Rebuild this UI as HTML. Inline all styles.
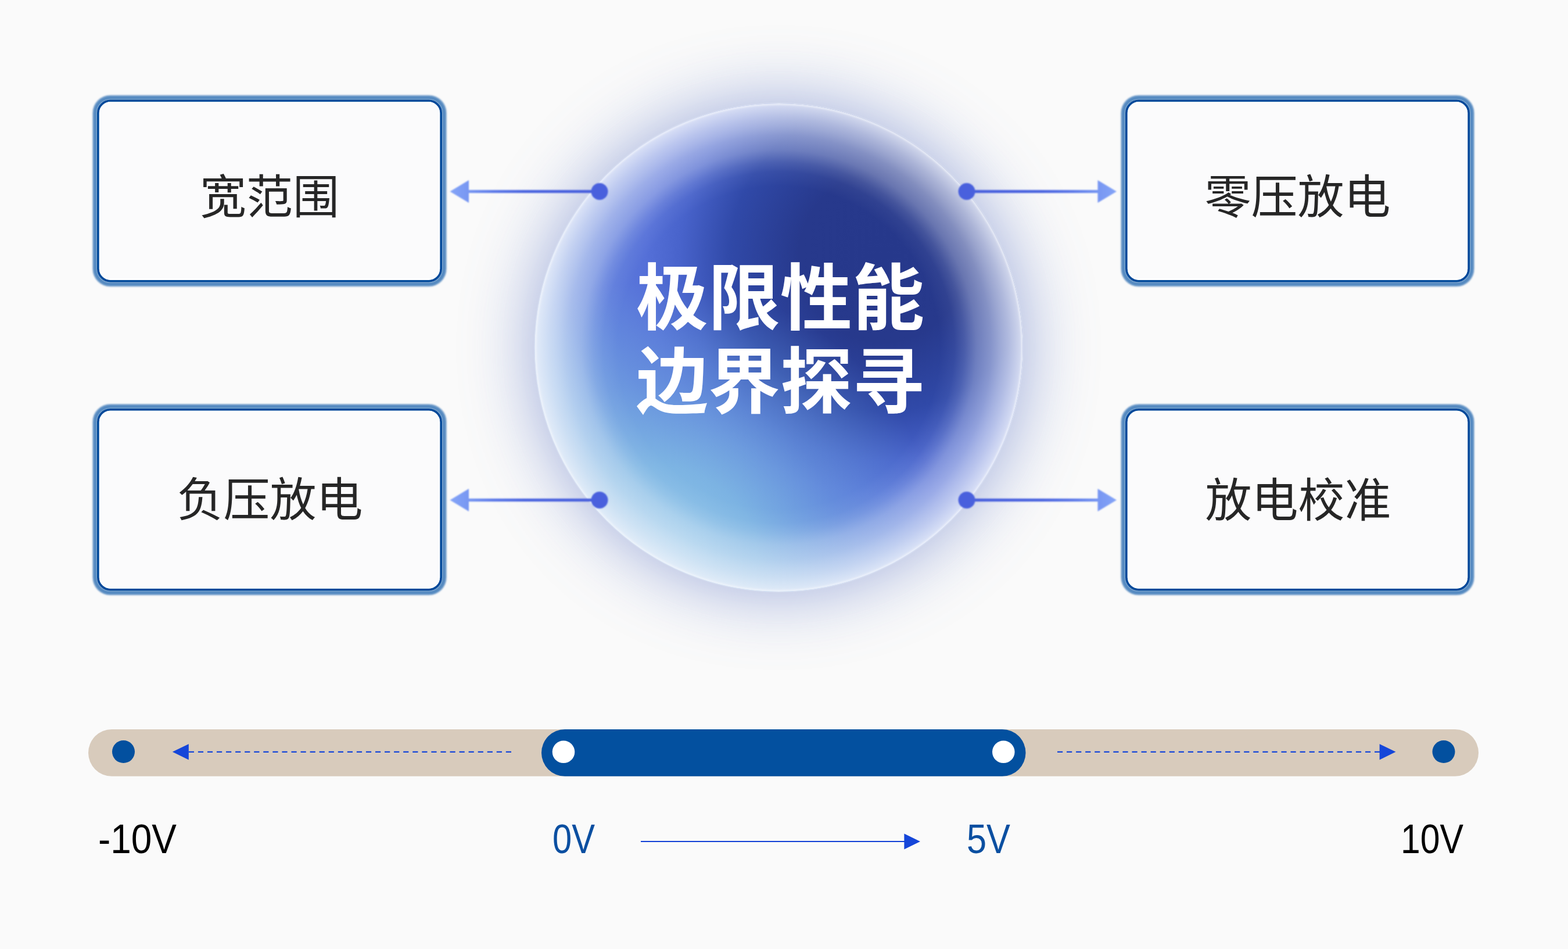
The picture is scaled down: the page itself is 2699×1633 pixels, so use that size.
<!DOCTYPE html>
<html lang="zh">
<head>
<meta charset="utf-8">
<title>极限性能 边界探寻</title>
<style>
html,body{margin:0;padding:0;background:#fafafa;font-family:"Liberation Sans",sans-serif;}
body{width:2699px;height:1633px;overflow:hidden;position:relative;}
svg{position:absolute;left:0;top:0;display:block;}
</style>
</head>
<body>
<svg width="2699" height="1633" viewBox="0 0 2699 1633">
<defs>

<filter id="glowBlur" x="-60%" y="-60%" width="220%" height="220%"><feGaussianBlur stdDeviation="63"/></filter>
<filter id="soft2" x="-10%" y="-30%" width="120%" height="160%"><feGaussianBlur stdDeviation="0.8"/></filter>
<filter id="soft3" x="-5%" y="-5%" width="110%" height="110%"><feGaussianBlur stdDeviation="0.55"/></filter>
<filter id="softT" x="-3%" y="-10%" width="106%" height="120%"><feGaussianBlur stdDeviation="0.6"/></filter>
<filter id="soft" x="-5%" y="-5%" width="110%" height="110%"><feGaussianBlur stdDeviation="1.2"/></filter>
<radialGradient id="core" gradientUnits="userSpaceOnUse" cx="1520" cy="443" r="660">
  <stop offset="0" stop-color="#26388b"/>
  <stop offset="0.22" stop-color="#27398c"/>
  <stop offset="0.40" stop-color="#3049a8"/>
  <stop offset="0.53" stop-color="#4863cb"/>
  <stop offset="0.62" stop-color="#5570d8"/>
  <stop offset="0.72" stop-color="#5d7cdc"/>
  <stop offset="0.82" stop-color="#6c90e0"/>
  <stop offset="0.92" stop-color="#8cb6ea"/>
  <stop offset="1" stop-color="#acd0f2"/>
</radialGradient>
<radialGradient id="cyan" gradientUnits="userSpaceOnUse" cx="1135" cy="975" r="490">
  <stop offset="0" stop-color="#96cdeb" stop-opacity="0.95"/>
  <stop offset="0.35" stop-color="#82bee4" stop-opacity="0.82"/>
  <stop offset="0.65" stop-color="#78b4e1" stop-opacity="0.38"/>
  <stop offset="1" stop-color="#78b4e1" stop-opacity="0"/>
</radialGradient>
<radialGradient id="rim" gradientUnits="userSpaceOnUse" cx="1340.5" cy="598" r="420">
  <stop offset="0" stop-color="#eef1fa" stop-opacity="0"/>
  <stop offset="0.66" stop-color="#eef1fa" stop-opacity="0"/>
  <stop offset="0.72" stop-color="#eef1fa" stop-opacity="0.05"/>
  <stop offset="0.76" stop-color="#eef1fa" stop-opacity="0.15"/>
  <stop offset="0.81" stop-color="#eef1fa" stop-opacity="0.33"/>
  <stop offset="0.87" stop-color="#eef1fa" stop-opacity="0.46"/>
  <stop offset="0.905" stop-color="#eef1fa" stop-opacity="0.57"/>
  <stop offset="0.94" stop-color="#eef1fa" stop-opacity="0.67"/>
  <stop offset="0.985" stop-color="#f0f3fb" stop-opacity="0.81"/>
  <stop offset="1" stop-color="#f4f6fc" stop-opacity="0.86"/>
</radialGradient>
<linearGradient id="arrL" gradientUnits="userSpaceOnUse" x1="775" y1="0" x2="1032" y2="0">
  <stop offset="0" stop-color="#84a4f7"/><stop offset="0.13" stop-color="#7796f2"/><stop offset="0.30" stop-color="#5f7be8"/><stop offset="0.5" stop-color="#4f68e0"/><stop offset="1" stop-color="#4a61dd"/>
</linearGradient>
<linearGradient id="arrR" gradientUnits="userSpaceOnUse" x1="1922" y1="0" x2="1664" y2="0">
  <stop offset="0" stop-color="#84a4f7"/><stop offset="0.13" stop-color="#7796f2"/><stop offset="0.30" stop-color="#5f7be8"/><stop offset="0.5" stop-color="#4f68e0"/><stop offset="1" stop-color="#4a61dd"/>
</linearGradient>
</defs>
<rect width="2699" height="1633" fill="#fafafa"/>
<circle cx="1340.5" cy="598" r="420" fill="#6980c8" opacity="0.67" filter="url(#glowBlur)"/>
<circle cx="1340.5" cy="598" r="420" fill="url(#core)"/>
<circle cx="1340.5" cy="598" r="420" fill="url(#cyan)"/>
<circle cx="1340.5" cy="598" r="420" fill="url(#rim)"/>
<circle cx="1340.5" cy="598" r="418.8" fill="none" stroke="#f0f4fc" stroke-width="3.2" stroke-opacity="0.62" filter="url(#soft)"/>
<g fill="url(#arrL)" filter="url(#soft2)"><rect x="806" y="326.9" width="226" height="5.2"/><path d="M774.5 329.5L807 310.0L807 349.0Z"/><circle cx="1032" cy="329.5" r="14.5"/></g>
<g fill="url(#arrL)" filter="url(#soft2)"><rect x="806" y="857.9" width="226" height="5.2"/><path d="M774.5 860.5L807 841.0L807 880.0Z"/><circle cx="1032" cy="860.5" r="14.5"/></g>
<g fill="url(#arrR)" filter="url(#soft2)"><rect x="1664" y="326.9" width="226.5" height="5.2"/><path d="M1922 329.5L1889.5 310.0L1889.5 349.0Z"/><circle cx="1664" cy="329.5" r="14.5"/></g>
<g fill="url(#arrR)" filter="url(#soft2)"><rect x="1664" y="857.9" width="226.5" height="5.2"/><path d="M1922 860.5L1889.5 841.0L1889.5 880.0Z"/><circle cx="1664" cy="860.5" r="14.5"/></g>
<g filter="url(#soft)"><rect x="160.40" y="164.90" width="607.20" height="327.20" rx="29.5" ry="29.5" fill="none" stroke="#5a8cc2" stroke-width="2.8" stroke-opacity="0.62"/><rect x="164.00" y="168.50" width="600.00" height="320.00" rx="25.9" ry="25.9" fill="none" stroke="#4f85be" stroke-width="6.4" stroke-opacity="0.96"/></g><g filter="url(#soft3)"><rect x="168.90" y="173.40" width="590.20" height="310.20" rx="21.0" ry="21.0" fill="#fbfbfc" stroke="#04489a" stroke-width="3.8" stroke-opacity="1"/><rect x="172.10" y="176.60" width="583.80" height="303.80" rx="17.8" ry="17.8" fill="none" stroke="#ffffff" stroke-width="2.6" stroke-opacity="0.9"/></g>
<g filter="url(#soft)"><rect x="160.40" y="696.40" width="607.20" height="326.70" rx="29.5" ry="29.5" fill="none" stroke="#5a8cc2" stroke-width="2.8" stroke-opacity="0.62"/><rect x="164.00" y="700.00" width="600.00" height="319.50" rx="25.9" ry="25.9" fill="none" stroke="#4f85be" stroke-width="6.4" stroke-opacity="0.96"/></g><g filter="url(#soft3)"><rect x="168.90" y="704.90" width="590.20" height="309.70" rx="21.0" ry="21.0" fill="#fbfbfc" stroke="#04489a" stroke-width="3.8" stroke-opacity="1"/><rect x="172.10" y="708.10" width="583.80" height="303.30" rx="17.8" ry="17.8" fill="none" stroke="#ffffff" stroke-width="2.6" stroke-opacity="0.9"/></g>
<g filter="url(#soft)"><rect x="1930.40" y="164.90" width="606.20" height="327.20" rx="29.5" ry="29.5" fill="none" stroke="#5a8cc2" stroke-width="2.8" stroke-opacity="0.62"/><rect x="1934.00" y="168.50" width="599.00" height="320.00" rx="25.9" ry="25.9" fill="none" stroke="#4f85be" stroke-width="6.4" stroke-opacity="0.96"/></g><g filter="url(#soft3)"><rect x="1938.90" y="173.40" width="589.20" height="310.20" rx="21.0" ry="21.0" fill="#fbfbfc" stroke="#04489a" stroke-width="3.8" stroke-opacity="1"/><rect x="1942.10" y="176.60" width="582.80" height="303.80" rx="17.8" ry="17.8" fill="none" stroke="#ffffff" stroke-width="2.6" stroke-opacity="0.9"/></g>
<g filter="url(#soft)"><rect x="1930.40" y="696.40" width="606.20" height="326.70" rx="29.5" ry="29.5" fill="none" stroke="#5a8cc2" stroke-width="2.8" stroke-opacity="0.62"/><rect x="1934.00" y="700.00" width="599.00" height="319.50" rx="25.9" ry="25.9" fill="none" stroke="#4f85be" stroke-width="6.4" stroke-opacity="0.96"/></g><g filter="url(#soft3)"><rect x="1938.90" y="704.90" width="589.20" height="309.70" rx="21.0" ry="21.0" fill="#fbfbfc" stroke="#04489a" stroke-width="3.8" stroke-opacity="1"/><rect x="1942.10" y="708.10" width="582.80" height="303.30" rx="17.8" ry="17.8" fill="none" stroke="#ffffff" stroke-width="2.6" stroke-opacity="0.9"/></g>
<text x="464" y="367" font-size="80" fill="#262626" text-anchor="middle" filter="url(#softT)" font-family="&quot;Liberation Sans&quot;, &quot;Noto Sans CJK SC&quot;, sans-serif">宽范围</text>
<text x="464.5" y="888" font-size="80" fill="#262626" text-anchor="middle" filter="url(#softT)" font-family="&quot;Liberation Sans&quot;, &quot;Noto Sans CJK SC&quot;, sans-serif">负压放电</text>
<text x="2233.5" y="367" font-size="80" fill="#262626" text-anchor="middle" filter="url(#softT)" font-family="&quot;Liberation Sans&quot;, &quot;Noto Sans CJK SC&quot;, sans-serif">零压放电</text>
<text x="2234.5" y="889" font-size="80" fill="#262626" text-anchor="middle" filter="url(#softT)" font-family="&quot;Liberation Sans&quot;, &quot;Noto Sans CJK SC&quot;, sans-serif">放电校准</text>
<text x="1343" y="557" font-size="124" font-weight="bold" fill="#ffffff" text-anchor="middle" filter="url(#softT)" font-family="&quot;Liberation Sans&quot;, &quot;Noto Sans CJK SC&quot;, sans-serif">极限性能</text>
<text x="1343" y="701" font-size="124" font-weight="bold" fill="#ffffff" text-anchor="middle" filter="url(#softT)" font-family="&quot;Liberation Sans&quot;, &quot;Noto Sans CJK SC&quot;, sans-serif">边界探寻</text>
<rect x="152" y="1255.0" width="2393" height="80.79999999999995" rx="40.39999999999998" fill="#d8cbbc"/>
<rect x="932" y="1255.0" width="833.5" height="80.79999999999995" rx="40.39999999999998" fill="#03509f"/>
<circle cx="212.5" cy="1293.6" r="19.5" fill="#03509f"/><circle cx="2485" cy="1293.6" r="19.5" fill="#03509f"/>
<circle cx="970.0" cy="1293.8" r="19.3" fill="#ffffff"/><circle cx="1727.3" cy="1293.8" r="19.3" fill="#ffffff"/>
<path d="M296.8 1293.8L324.8 1280.2L324.8 1307.3999999999999Z" fill="#1546d9"/><line x1="324.8" y1="1293.8" x2="880" y2="1293.8" stroke="#1546d9" stroke-width="2.3" stroke-dasharray="9.2 6.86"/>
<path d="M2402.5 1293.8L2374.6 1280.2L2374.6 1307.3999999999999Z" fill="#1546d9"/><line x1="1820" y1="1293.8" x2="2375" y2="1293.8" stroke="#1546d9" stroke-width="2.3" stroke-dasharray="9.2 6.86"/>
<text x="169" y="1468" font-size="70" fill="#000000" textLength="135" lengthAdjust="spacingAndGlyphs" font-family="&quot;Liberation Sans&quot;, sans-serif">-10V</text>
<text x="951" y="1468" font-size="70" fill="#0b4fa1" textLength="73" lengthAdjust="spacingAndGlyphs" font-family="&quot;Liberation Sans&quot;, sans-serif">0V</text>
<text x="1664" y="1468" font-size="70" fill="#0b4fa1" textLength="75" lengthAdjust="spacingAndGlyphs" font-family="&quot;Liberation Sans&quot;, sans-serif">5V</text>
<text x="2411" y="1468" font-size="70" fill="#000000" textLength="108" lengthAdjust="spacingAndGlyphs" font-family="&quot;Liberation Sans&quot;, sans-serif">10V</text>
<line x1="1103" y1="1448" x2="1558" y2="1448" stroke="#1240d6" stroke-width="2.1"/><path d="M1584 1448L1556.4 1434.4L1556.4 1461.6Z" fill="#1546d9"/>
</svg>
</body>
</html>
